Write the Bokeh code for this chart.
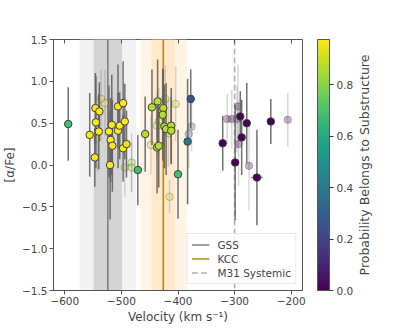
from bokeh.plotting import figure
from bokeh.layouts import row
from bokeh.models import (ColumnDataSource, LinearColorMapper, ColorBar, FixedTicker,
                          BoxAnnotation, Span, Legend, LegendItem, LinearAxis, Range1d)
from bokeh.palettes import Viridis256
from bokeh.transform import transform
from bokeh.embed import file_html
from bokeh.resources import INLINE

# ---- data: confident measurements ----
vel = [-594, -556, -546, -539, -545, -540, -522, -517, -519, -516, -520, -506, -497, -506,
       -503, -494, -497, -491, -547, -471, -458, -446, -436, -426, -427, -424, -421, -412,
       -412, -437, -434, -400, -383, -377.5, -321, -299, -290, -287.5, -278.5, -236, -260.5]
afe = [0.49, 0.36, 0.68, 0.64, 0.51, 0.40, 0.40, 0.48, 0.30, 0.23, 0.00, 0.70, 0.74, 0.41,
       0.47, 0.52, 0.20, 0.25, 0.09, -0.06, 0.37, 0.69, 0.76, 0.68, 0.60, 0.46, 0.43, 0.47,
       0.41, 0.21, 0.23, -0.11, 0.28, 0.79, 0.26, 0.03, 0.58, 0.33, 0.50, 0.52, -0.15]
afe_err = [0.44, 0.50, 0.42, 0.35, 0.55, 0.45, 0.55, 0.60, 0.50, 0.55, 0.65, 0.50, 0.50, 0.45,
           0.40, 0.45, 0.40, 0.40, 0.35, 0.42, 0.45, 0.45, 0.50, 0.45, 0.55, 0.50, 0.55, 0.45,
           0.40, 0.55, 0.50, 0.53, 0.75, 0.35, 0.33, 0.69, 0.30, 0.45, 0.48, 0.27, 0.57]
vel_err = [0] * 40 + [10]
prob = [0.68, 0.97, 0.97, 0.97, 0.97, 0.97, 0.97, 0.97, 0.97, 0.97, 0.97, 0.97, 0.97, 0.97,
        0.97, 0.97, 0.97, 0.95, 0.97, 0.68, 0.87, 0.87, 0.87, 0.87, 0.87, 0.87, 0.87, 0.87,
        0.87, 0.87, 0.87, 0.68, 0.38, 0.25, 0.0, 0.0, 0.0, 0.0, 0.0, 0.0, 0.0]

# ---- data: less certain measurements (drawn faded) ----
vel_f = [-542, -536, -529, -494, -482, -482, -448, -422.5, -434, -437, -417, -404, -415,
         -376, -381, -313, -305, -296, -294, -293, -274.5, -206]
afe_f = [0.32, 0.79, 0.74, -0.03, 0.03, -0.03, 0.24, 0.79, 0.52, 0.47, 0.38, 0.73, -0.38,
         0.46, 0.37, 0.55, 0.55, 0.55, 0.70, 0.25, -0.01, 0.54]
afe_err_f = [0.40, 0.35, 0.40, 0.35, 0.35, 0.30, 0.35, 0.40, 0.40, 0.40, 0.40, 0.45, 0.20,
             0.30, 0.40, 0.30, 0.35, 0.40, 0.50, 0.50, 0.53, 0.32]
prob_f = [0.97, 0.97, 0.97, 0.85, 0.85, 0.85, 0.85, 0.87, 0.87, 0.87, 0.87, 0.87, 0.87,
          0.30, 0.30, 0.0, 0.0, 0.0, 0.0, 0.0, 0.0, 0.0]

# ---- reference velocities ----
gss_mean, gss_sigma = -524, 25
kcc_mean, kcc_sigma = -426, 21
m31_sys = -300

x_ticks = [-600, -500, -400, -300, -200]
y_ticks = [-1.5, -1.0, -0.5, 0.0, 0.5, 1.0, 1.5]
cb_ticks = [0.0, 0.2, 0.4, 0.6, 0.8]
prob_max = 0.977

FONT = "DejaVu Sans"
H = 326


def minus(s):
    return s.replace("-", "\u2212")


src = ColumnDataSource(dict(
    x=vel, y=afe, prob=prob,
    y0=[a - e for a, e in zip(afe, afe_err)], y1=[a + e for a, e in zip(afe, afe_err)],
    x0=[v - e for v, e in zip(vel, vel_err)], x1=[v + e for v, e in zip(vel, vel_err)],
))
src_f = ColumnDataSource(dict(
    x=vel_f, y=afe_f, prob=prob_f,
    y0=[a - e for a, e in zip(afe_f, afe_err_f)], y1=[a + e for a, e in zip(afe_f, afe_err_f)],
))

p = figure(width=371, height=H, output_backend="svg", toolbar_location=None,
           x_range=Range1d(-620, -180), y_range=Range1d(-1.5, 1.5),
           min_border_left=44, min_border_top=39, min_border_bottom=36, min_border_right=69)
p.background_fill_color = "white"
p.border_fill_color = "white"
p.outline_line_color = "#555555"
p.outline_line_width = 1
p.grid.visible = False

# bands
for lo, hi, col in [
    (gss_mean - 2 * gss_sigma, gss_mean + 2 * gss_sigma, "#f2f2f2"),
    (gss_mean - gss_sigma, gss_mean + gss_sigma, "#d4d4d4"),
    (kcc_mean - 2 * kcc_sigma, kcc_mean + 2 * kcc_sigma, "#fff4e5"),
    (kcc_mean - kcc_sigma, kcc_mean + kcc_sigma, "#ffe8cc"),
]:
    p.add_layout(BoxAnnotation(left=lo, right=hi, fill_color=col, fill_alpha=1.0,
                               line_color=None, level="underlay"))

p.add_layout(Span(location=gss_mean, dimension="height", line_color="#808080",
                  line_width=1.6, level="underlay"))
p.add_layout(Span(location=kcc_mean, dimension="height", line_color="#b8860b",
                  line_width=1.6, level="underlay"))
p.add_layout(Span(location=m31_sys, dimension="height", line_color="#b0b0b0",
                  line_width=1.6, line_dash="6 3", level="underlay"))

mapper = LinearColorMapper(palette=Viridis256, low=0, high=prob_max)

# faded points
p.segment(x0="x", y0="y0", x1="x", y1="y1", source=src_f, line_color="#808080",
          line_alpha=0.3, line_width=1.5)
p.scatter(x="x", y="y", source=src_f, size=7.5, fill_color=transform("prob", mapper),
          fill_alpha=0.3, line_color="#404040", line_alpha=0.3, line_width=1)

# confident points
p.segment(x0="x", y0="y0", x1="x", y1="y1", source=src, line_color="#606060",
          line_alpha=0.9, line_width=1.5)
p.segment(x0="x0", y0="y", x1="x1", y1="y", source=src, line_color="#606060",
          line_alpha=0.9, line_width=1.5)
p.scatter(x="x", y="y", source=src, size=7.5, fill_color=transform("prob", mapper),
          line_color="#404040", line_width=1)

# legend (proxy renderers with no visible data)
nan = float("nan")
r_gss = p.line(x=[nan, nan], y=[nan, nan], line_color="#808080", line_width=1.6)
r_kcc = p.line(x=[nan, nan], y=[nan, nan], line_color="#b8860b", line_width=1.6)
r_m31 = p.line(x=[nan, nan], y=[nan, nan], line_color="#b0b0b0", line_width=1.6,
               line_dash="6 3")
legend = Legend(items=[LegendItem(label="GSS", renderers=[r_gss]),
                       LegendItem(label="KCC", renderers=[r_kcc]),
                       LegendItem(label="M31 Systemic", renderers=[r_m31])],
                location="bottom_right", margin=6, padding=4, spacing=1,
                glyph_width=18, glyph_height=13, label_standoff=8,
                label_text_font=FONT, label_text_font_size="10.5px",
                border_line_color="#d0d0d0", border_line_width=1,
                background_fill_color="white", background_fill_alpha=0.8)
p.add_layout(legend, "center")

# axes
for ax in (p.xaxis[0], p.yaxis[0]):
    ax.major_label_text_font = FONT
    ax.major_label_text_font_size = "10.5px"
    ax.axis_label_text_font = FONT
    ax.axis_label_text_font_size = "12px"
    ax.axis_label_text_font_style = "normal"
    ax.axis_line_color = "#555555"
    ax.major_tick_line_color = "#555555"
    ax.major_tick_out = 4
    ax.major_tick_in = 0
    ax.minor_tick_line_color = None
    ax.major_label_standoff = 2
    ax.axis_label_standoff = 2

p.xaxis.ticker = FixedTicker(ticks=x_ticks)
p.xaxis.major_label_overrides = {t: minus(str(t)) for t in x_ticks}
p.xaxis.axis_label = "Velocity (km s\u207b\u00b9)"
p.yaxis.ticker = FixedTicker(ticks=y_ticks)
p.yaxis.major_label_overrides = {t: minus(f"{t:.1f}") for t in y_ticks}
p.yaxis.axis_label = "[\u03b1/Fe]"

# inward ticks on top (no labels)
top_ax = LinearAxis(ticker=FixedTicker(ticks=x_ticks),
                    major_label_overrides={t: "" for t in x_ticks},
                    major_tick_in=4, major_tick_out=0, minor_tick_line_color=None,
                    axis_line_color=None, major_tick_line_color="#555555",
                    major_label_standoff=0)
p.add_layout(top_ax, "above")

cb = ColorBar(color_mapper=mapper, ticker=FixedTicker(ticks=cb_ticks),
              major_label_overrides={t: f"{t:.1f}" for t in cb_ticks},
              width=12, padding=0, margin=0, location=(15, 0),
              major_tick_out=4, major_tick_in=0, major_tick_line_color="#333333",
              label_standoff=3, major_label_text_font=FONT, major_label_text_font_size="10.5px",
              bar_line_color="#555555", border_line_color=None, background_fill_color=None)
p.add_layout(cb, "right")

# colour-bar title: a left-axis label of a narrow companion figure (reads bottom to top)
lab = figure(width=36, height=H, output_backend="svg", toolbar_location=None,
             x_range=Range1d(0, 1), y_range=Range1d(-1.5, 1.5),
             min_border_left=0, min_border_top=39, min_border_bottom=36, min_border_right=0,
             margin=(0, 0, 0, -18))
lab.outline_line_color = None
lab.background_fill_color = None
lab.border_fill_color = None
lab.grid.visible = False
lab.xaxis.visible = False
lab.yaxis.ticker = FixedTicker(ticks=[])
lab.yaxis.axis_line_color = None
lab.yaxis.major_tick_out = 0
lab.yaxis.major_tick_in = 0
lab.yaxis.major_label_standoff = 0
lab.yaxis.axis_label = "Probability Belongs to Substructure"
lab.yaxis.axis_label_text_font = FONT
lab.yaxis.axis_label_text_font_size = "12.5px"
lab.yaxis.axis_label_text_font_style = "normal"
lab.yaxis.axis_label_standoff = 0

layout = row(p, lab)

open("out.html", "w").write(file_html(layout, INLINE))
